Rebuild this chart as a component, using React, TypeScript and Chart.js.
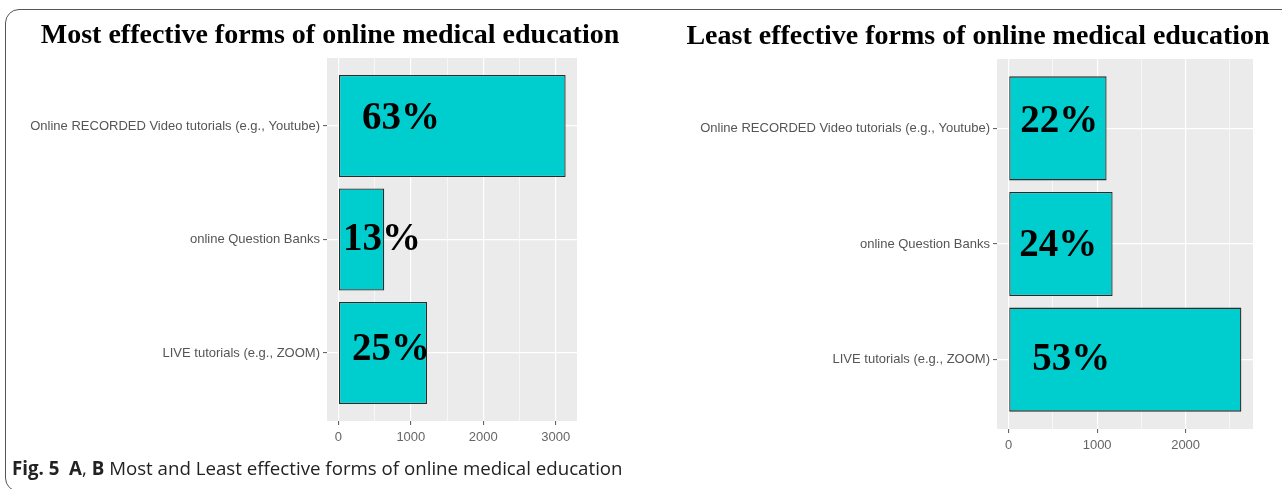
import React, { useEffect, useRef } from "react";
import { Chart, registerables } from "chart.js";

Chart.register(...registerables);

// ---------- data ----------
const categories = [
  "Online RECORDED Video tutorials (e.g., Youtube)",
  "online Question Banks",
  "LIVE tutorials (e.g., ZOOM)",
];
const mostValues = [3136, 633, 1224];
const mostLabels = ["63%", "13%", "25%"];
const leastValues = [1107, 1175, 2630];
const leastLabels = ["22%", "24%", "53%"];
const mostTitle = "Most effective forms of online medical education";
const leastTitle = "Least effective forms of online medical education";
const minorStep = 500;
const majorStep = 1000;

// ---------- styles / layout ----------
const mostNudges = [
  { dx: 23, dy: -7 },
  { dx: 4, dy: 0 },
  { dx: 13, dy: -3 },
];
const leastNudges = [
  { dx: 11, dy: -6 },
  { dx: 10, dy: 2 },
  { dx: 23, dy: 0 },
];

const SERIF = '"Liberation Serif", "Times New Roman", serif';
const SANS = '"Liberation Sans", Arial, sans-serif';

type PanelProps = {
  values: number[];
  labels: string[];
  title: string;
  nudges: { dx: number; dy: number }[];
  left: number;
  width: number;
  height: number;
  yAxisWidth: number;
  rightPad: number;
  titleTop: number;
  titleBottom: number;
  xAxisHeight: number;
};

function Panel(p: PanelProps) {
  const ref = useRef<HTMLCanvasElement | null>(null);
  useEffect(() => {
    if (!ref.current) return;
    const n = categories.length;
    const data = p.values.map((v, i) => ({ x: v, y: n - i }));
    const maxV = Math.max(...p.values);
    const xMin = -0.05 * maxV;
    const xMax = 1.05 * maxV;

    const panelBg = {
      id: "panelBg",
      beforeDraw(chart: any) {
        const { ctx, chartArea: a } = chart;
        ctx.save();
        ctx.fillStyle = "#EBEBEB";
        ctx.fillRect(a.left, a.top, a.right - a.left, a.bottom - a.top);
        ctx.restore();
      },
    };
    const barLabels = {
      id: "barLabels",
      afterDatasetsDraw(chart: any) {
        const meta = chart.getDatasetMeta(0);
        const ctx = chart.ctx;
        ctx.save();
        ctx.font = `bold 39px ${SERIF}`;
        ctx.fillStyle = "#000";
        ctx.textAlign = "left";
        ctx.textBaseline = "middle";
        meta.data.forEach((el: any, i: number) => {
          const { base, y } = el.getProps(["base", "y"], true);
          ctx.fillText(p.labels[i], base + p.nudges[i].dx, y + p.nudges[i].dy);
        });
        ctx.restore();
      },
    };

    const chart = new Chart(ref.current, {
      type: "bar",
      data: {
        datasets: [
          {
            data,
            backgroundColor: "#00CDCD",
            borderColor: "#2b2b2b",
            borderWidth: 1.3,
            borderSkipped: false,
            barPercentage: 0.9,
            categoryPercentage: 1,
          } as any,
        ],
      },
      options: {
        indexAxis: "y",
        animation: false,
        responsive: false,
        layout: { padding: 0 },
        plugins: {
          legend: { display: false },
          tooltip: { enabled: false },
          title: {
            display: true,
            text: p.title,
            color: "#000",
            font: { family: SERIF, size: 28, weight: "bold" },
            padding: { top: p.titleTop, bottom: p.titleBottom },
          },
        },
        scales: {
          x: {
            type: "linear",
            position: "bottom",
            min: xMin,
            max: xMax,
            offset: false,
            afterBuildTicks: (s: any) => {
              const t = [];
              for (let v = 0; v <= xMax; v += minorStep) t.push({ value: v });
              s.ticks = t;
            },
            afterFit: (s: any) => {
              s.height = p.xAxisHeight;
            },
            ticks: {
              autoSkip: false,
              maxRotation: 0,
              padding: 5,
              color: "#666",
              font: { family: SANS, size: 13 },
              callback: (v: any) => (v % majorStep === 0 ? String(v) : ""),
            },
            grid: {
              offset: false,
              color: "#FFFFFF",
              lineWidth: (c: any) =>
                c.tick && c.tick.value % majorStep === 0 ? 1.2 : 0.6,
              tickColor: (c: any) =>
                c.tick && c.tick.value % majorStep === 0 ? "#555" : "rgba(0,0,0,0)",
              tickLength: 4,
              tickWidth: 1,
            },
            border: { display: false },
          },
          y: {
            type: "linear",
            position: "left",
            min: 0.4,
            max: n + 0.6,
            offset: false,
            afterBuildTicks: (s: any) => {
              s.ticks = categories.map((_, i) => ({ value: n - i }));
            },
            afterFit: (s: any) => {
              s.width = p.yAxisWidth;
            },
            ticks: {
              autoSkip: false,
              padding: 3,
              color: "#555",
              font: { family: SANS, size: 13 },
              callback: (v: any) => categories[n - v],
            },
            grid: {
              offset: false,
              color: "#FFFFFF",
              lineWidth: 1.2,
              tickColor: "#555",
              tickLength: 4,
              tickWidth: 1,
            },
            border: { display: false },
          },
          pad: {
            type: "linear",
            position: "right",
            display: true,
            afterFit: (s: any) => {
              s.width = p.rightPad;
            },
            ticks: { display: false },
            grid: { display: false, drawTicks: false },
            border: { display: false },
          },
        } as any,
      },
      plugins: [panelBg, barLabels],
    } as any);
    return () => chart.destroy();
  }, []);
  return (
    <canvas
      ref={ref}
      width={p.width}
      height={p.height}
      style={{
        position: "absolute",
        left: p.left,
        top: 0,
        width: p.width,
        height: p.height,
        display: "block",
      }}
    />
  );
}

export default function App() {
  return (
    <div
      style={{
        position: "absolute",
        left: 0,
        top: 0,
        width: 1282,
        height: 489,
        overflow: "hidden",
        background: "#fff",
      }}
    >
      <div
        style={{
          position: "absolute",
          left: 5,
          top: 9,
          width: 1300,
          height: 483,
          border: "1.5px solid #555",
          borderRadius: 14,
          boxSizing: "border-box",
        }}
      />
      <Panel
        values={mostValues}
        labels={mostLabels}
        title={mostTitle}
        nudges={mostNudges}
        left={0}
        width={660}
        height={489}
        yAxisWidth={327}
        rightPad={83}
        titleTop={19}
        titleBottom={5.4}
        xAxisHeight={68}
      />
      <Panel
        values={leastValues}
        labels={leastLabels}
        title={leastTitle}
        nudges={leastNudges}
        left={674}
        width={608}
        height={489}
        yAxisWidth={323}
        rightPad={29}
        titleTop={20}
        titleBottom={5.4}
        xAxisHeight={60}
      />
      <div
        style={{
          position: "absolute",
          left: 12,
          top: 455,
          fontFamily: '"Open Sans", "Noto Sans", sans-serif',
          fontSize: 18.7,
          lineHeight: "26px",
          color: "#222",
          whiteSpace: "nowrap",
        }}
      >
        <b>Fig. 5</b>
        {"\u00a0\u00a0"}
        <b>A</b>, <b>B</b> Most and Least effective forms of online medical education
      </div>
    </div>
  );
}
